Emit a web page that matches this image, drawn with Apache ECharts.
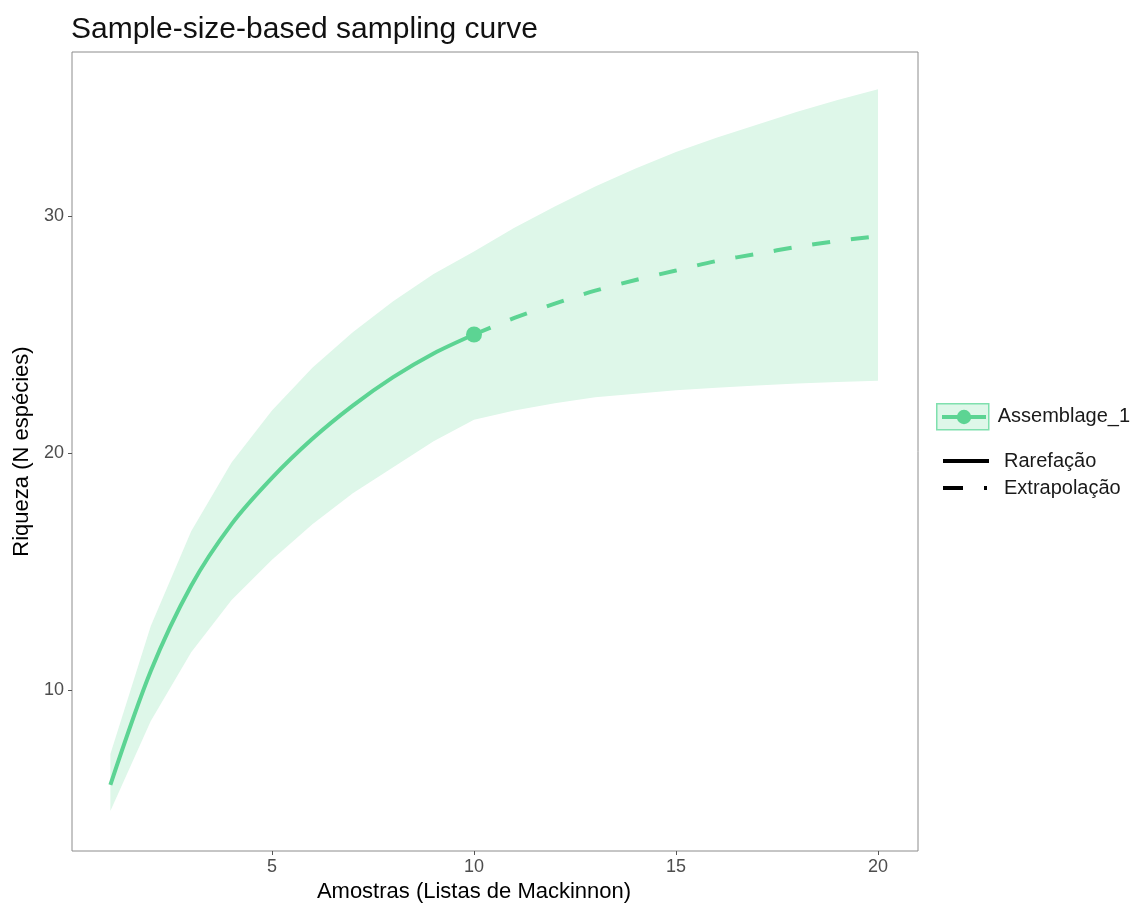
<!DOCTYPE html>
<html lang="pt">
<head>
<meta charset="UTF-8">
<title>Sample-size-based sampling curve</title>
<script src="https://cdn.jsdelivr.net/npm/echarts@6/dist/echarts.min.js"></script>
<style>
  html, body { margin: 0; padding: 0; background: #fff; }
  #main { width: 1132px; height: 904px; }
</style>
</head>
<body>
<div id="main"></div>
<script>
// amostras (listas de Mackinnon)
var amostras = [1, 2, 3, 4, 5, 6, 7, 8, 9, 10, 11, 12, 13, 14, 15, 16, 17, 18, 19, 20];
// riqueza estimada (1-10 rarefacao, 10-20 extrapolacao)
var riqueza = [6.0, 10.8, 14.4, 17.0, 18.95, 20.6, 22.0, 23.2, 24.2, 25.0,
               25.7, 26.3, 26.85, 27.3, 27.7, 28.1, 28.4, 28.7, 28.95, 29.15];
// intervalo de confianca
var limInf = [4.9, 8.7, 11.6, 13.8, 15.5, 17.0, 18.3, 19.4, 20.5, 21.4,
              21.8, 22.1, 22.35, 22.5, 22.65, 22.75, 22.85, 22.93, 23.0, 23.05];
var limSup = [7.3, 12.7, 16.7, 19.6, 21.8, 23.6, 25.1, 26.4, 27.55, 28.5,
              29.5, 30.4, 31.25, 32.0, 32.7, 33.3, 33.85, 34.4, 34.9, 35.35];
var nObs = 10; // amostras observadas
var xTicks = [5, 10, 15, 20];
var yTicks = [10, 20, 30];

var verde = '#5cd493';
var faixa = '#def7e9';
var fonte = '"Liberation Sans", Arial, sans-serif';

var iObs = amostras.indexOf(nObs);
var faixaData = amostras.map(function (x, i) { return [x, limInf[i], limSup[i]]; });
var rarefacao = amostras.slice(0, iObs + 1).map(function (x, i) { return [x, riqueza[i]]; });
var extrapolacao = amostras.slice(iObs).map(function (x, i) { return [x, riqueza[iObs + i]]; });

var semSimbolo = { color: 'rgba(0,0,0,0)', borderWidth: 0, opacity: 0 };

var chart = echarts.init(document.getElementById('main'));
chart.setOption({
  animation: false,
  textStyle: { fontFamily: fonte },
  title: {
    text: 'Sample-size-based sampling curve',
    left: 71, top: 15, padding: 0,
    textStyle: { fontSize: 30, fontWeight: 'normal', color: '#111', fontFamily: fonte }
  },
  grid: {
    left: 72, right: 214, top: 52, bottom: 53,
    containLabel: false, outerBoundsMode: 'none',
    show: true, borderColor: '#8c8c8c', borderWidth: 1, backgroundColor: '#fff'
  },
  xAxis: {
    type: 'value', min: 0.05, max: 20.99,
    name: 'Amostras (Listas de Mackinnon)',
    nameLocation: 'middle', nameGap: 28,
    nameTextStyle: { fontSize: 22, color: '#000', padding: [0, 42, 0, 0] },
    axisLine: { show: false },
    splitLine: { show: false },
    axisTick: { show: true, length: 4, lineStyle: { color: '#555' }, customValues: xTicks },
    axisLabel: { fontSize: 18, color: '#4d4d4d', margin: 7, customValues: xTicks }
  },
  yAxis: {
    type: 'value', min: 3.21, max: 36.92,
    name: 'Riqueza (N espécies)',
    nameLocation: 'middle', nameGap: 30,
    nameTextStyle: { fontSize: 22, color: '#000' },
    axisLine: { show: false },
    splitLine: { show: false },
    axisTick: { show: true, length: 4, lineStyle: { color: '#555' }, customValues: yTicks },
    axisLabel: { fontSize: 18, color: '#4d4d4d', margin: 8, customValues: yTicks }
  },
  legend: [
    {
      left: 936, top: 403, padding: 0, selectedMode: false,
      itemWidth: 52, itemHeight: 26,
      textStyle: { fontSize: 20, color: '#1a1a1a', padding: [0, 0, 0, 4] },
      data: [{ name: 'Assemblage_1', icon: 'rect',
               itemStyle: { color: faixa, borderColor: '#7fe0ae', borderWidth: 1.5 } }]
    },
    {
      left: 940, top: 408, padding: 0, selectedMode: false,
      itemWidth: 44, itemHeight: 18,
      formatter: function () { return ''; },
      data: [{ name: 'Observado', lineStyle: { color: verde, width: 4 }, itemStyle: { color: verde } }]
    },
    {
      left: 941, top: 451, padding: 0, selectedMode: false, orient: 'vertical',
      itemWidth: 46, itemHeight: 20, itemGap: 7,
      textStyle: { fontSize: 20, color: '#1a1a1a', padding: [0, 0, 0, 10] },
      data: [
        { name: 'Rarefação', lineStyle: { color: '#000', width: 4 }, itemStyle: semSimbolo },
        { name: 'Extrapolação', lineStyle: { color: '#000', width: 4, type: [20, 21, 3, 40] }, itemStyle: semSimbolo }
      ]
    }
  ],
  series: [
    {
      name: 'Assemblage_1',
      type: 'custom',
      silent: true,
      color: faixa,
      data: faixaData,
      encode: { x: 0, y: [1, 2] },
      renderItem: function (params, api) {
        if (params.dataIndex !== 0) return;
        var sup = [], inf = [];
        for (var i = 0; i < faixaData.length; i++) {
          sup.push(api.coord([faixaData[i][0], faixaData[i][2]]));
          inf.unshift(api.coord([faixaData[i][0], faixaData[i][1]]));
        }
        return {
          type: 'polygon',
          shape: { points: sup.concat(inf) },
          style: { fill: faixa }
        };
      },
      z: 1
    },
    {
      name: 'Rarefação',
      type: 'line',
      data: rarefacao,
      smooth: 0.3,
      symbol: 'none',
      color: verde,
      lineStyle: { color: verde, width: 4 },
      z: 3
    },
    {
      name: 'Extrapolação',
      type: 'line',
      data: extrapolacao,
      smooth: 0.3,
      symbol: 'none',
      color: verde,
      lineStyle: { color: verde, width: 4, type: [18, 21] },
      z: 3
    },
    {
      name: 'Observado',
      type: 'line',
      data: [[nObs, riqueza[iObs]]],
      symbol: 'circle',
      symbolSize: 16,
      color: verde,
      itemStyle: { color: verde },
      lineStyle: { color: verde, width: 4 },
      z: 4
    }
  ]
});
</script>
</body>
</html>
